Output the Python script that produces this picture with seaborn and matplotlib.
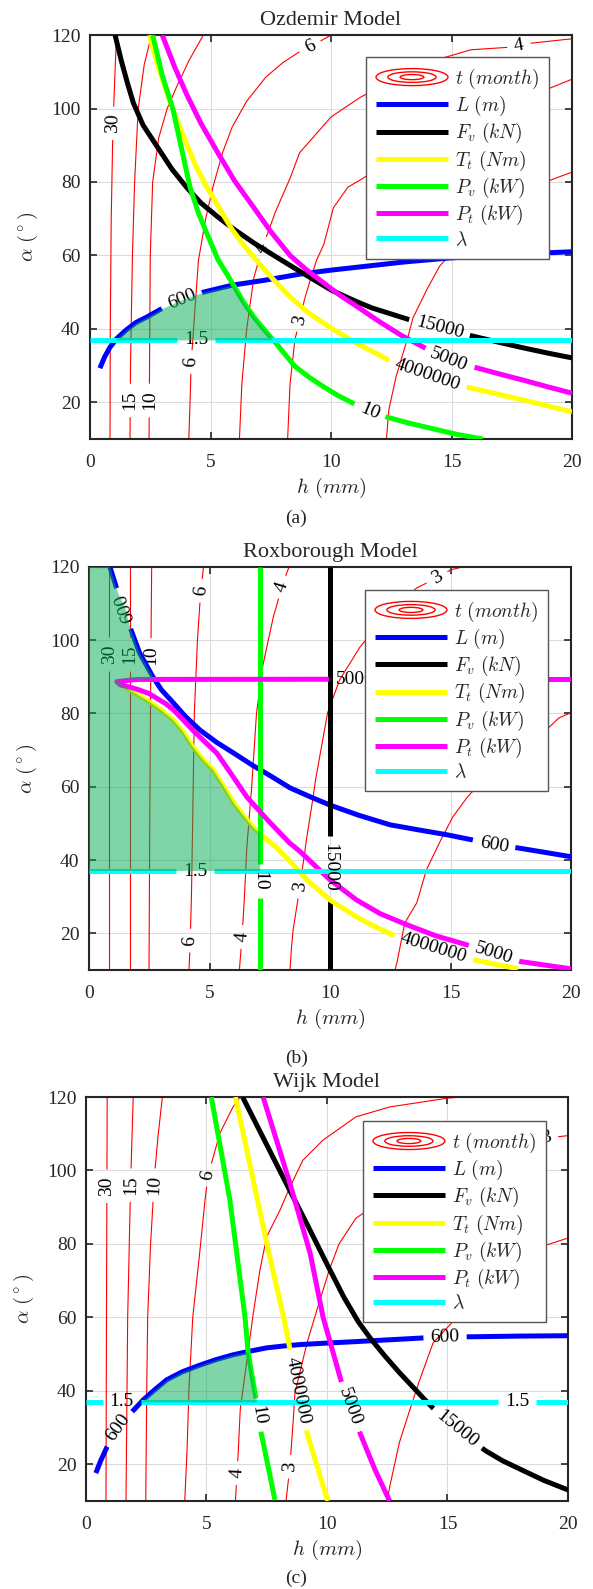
import numpy as np
import matplotlib
matplotlib.use("Agg")
import matplotlib.pyplot as plt
import seaborn as sns
from matplotlib.legend_handler import HandlerBase
from matplotlib.patches import Ellipse
from matplotlib.lines import Line2D

sns.set_style("ticks")
plt.rcParams["font.family"] = ["Liberation Serif", "DejaVu Serif"]
plt.rcParams["mathtext.fontset"] = "cm"

# ---------------------------------------------------------------- axes
H_LIM = (0, 20)
A_LIM = (10, 120)
H_TICKS = [0, 5, 10, 15, 20]
A_TICKS = [20, 40, 60, 80, 100, 120]

# ------------------------------------------------ (a) Ozdemir model
OZ_T30_H = [0.83, 0.84, 0.88, 0.95, 1.05, 1.1]
OZ_T30_A = [10, 40, 70, 95, 112, 120]
OZ_T15_H = [1.66, 1.68, 1.76, 1.85, 2.0, 2.25, 2.55]
OZ_T15_A = [10, 30, 60, 80, 100, 112, 120]
OZ_T10_H = [2.45, 2.47, 2.5, 2.6, 2.85, 3.2, 3.6, 4.1, 4.7]
OZ_T10_A = [10, 30, 60, 80, 92, 100, 106, 113, 120]
OZ_T6_H = [4.1, 4.15, 4.2, 4.35, 4.5, 4.8, 5.1, 5.5, 5.9, 6.5, 7.3, 8.0, 8.7, 9.4, 10.0]
OZ_T6_A = [10, 20, 31, 45, 58.7, 70, 78.6, 88, 95, 102, 108.6, 112.5, 115.5, 117.8, 120]
OZ_T4_H = [6.2, 6.3, 6.5, 6.8, 7.15, 7.7, 8.3, 8.7, 10.0, 11.2, 13.0, 14.5, 15.8, 17.4, 18.3, 20.0]
OZ_T4_A = [10, 25, 40, 54, 62, 72, 81, 88, 97.7, 103, 109.5, 113.5, 116, 116.7, 117.8, 119]
OZ_T3_H = [8.2, 8.3, 8.5, 8.7, 8.9, 9.1, 9.4, 9.7, 10.1, 10.7, 11.2, 12.5, 14.0, 15.5, 17.0, 19.1, 20.0]
OZ_T3_A = [10, 25, 37, 42.4, 48, 52.5, 58.7, 63, 73, 78.6, 80.5, 86, 92, 97, 101, 105.6, 108]
OZ_T2_H = [12.3, 12.4, 12.7, 13.2, 13.4, 14.0, 14.5, 14.9, 16.0, 17.2, 18.2, 19.1, 20.0]
OZ_T2_A = [10, 18, 27, 38, 43, 51, 57, 60, 67, 72.5, 76.5, 80.5, 82.7]
OZ_L_H = [0.41, 0.6, 0.83, 1.1, 1.5, 1.9, 2.35, 3.0, 3.8, 4.7, 5.9, 7.3, 8.7, 10.0, 11.1, 13.0,
          14.9, 17.5, 20.0]
OZ_L_A = [29.3, 32.3, 35, 37.3, 39.7, 41.7, 43.2, 45.6, 47.9, 50, 51.9, 53.3, 54.9, 56, 56.8, 58.2,
          59.3, 60.3, 61]
OZ_FV_H = [1.04, 1.3, 1.55, 1.8, 2.2, 2.8, 3.4, 4.0, 4.6, 5.3, 6.0, 6.8, 7.8, 8.8, 10.0, 11.0, 11.7,
           13.2, 14.5, 15.9, 17.0, 18.0, 19.0, 20.0]
OZ_FV_A = [120, 113, 107, 101.5, 95.5, 89.5, 83.5, 78.6, 74.3, 70.5, 67, 63.4, 59.3, 55.3, 50.6, 47.6,
           45.7, 42.6, 40.3, 38, 36.3, 34.8, 33.4, 32.1]
OZ_TT_H = [2.46, 2.8, 3.2, 3.6, 4.0, 4.4, 4.85, 5.4, 5.9, 6.4, 6.9, 7.6, 8.3, 9.1, 10.0, 11.2, 12.4,
           14.0, 15.8, 18.0, 20.0]
OZ_TT_A = [120, 112, 104, 97, 90.5, 84.2, 78.6, 72.5, 67, 62.6, 58.7, 53.5, 48.7, 44.2, 40.2, 35.6,
           31.5, 27.4, 23.9, 20.6, 17.4]
OZ_PV_H = [2.6, 3.0, 3.45, 3.8, 4.15, 4.5, 4.85, 5.3, 5.9, 6.35, 6.8, 7.2, 7.6, 8.1, 8.5, 9.1, 9.7,
           10.3, 10.9, 11.6, 12.3, 13.2, 14.1, 15.2, 16.3]
OZ_PV_A = [120, 109, 99.6, 89, 78.6, 71.5, 66, 59, 52.5, 47.5, 43.2, 40, 37, 33, 29.8, 26.8, 24.2,
           21.8, 19.8, 17.6, 16, 14.4, 13, 11.3, 10]
OZ_PT_H = [3.0, 3.5, 4.0, 4.6, 5.3, 6.0, 6.8, 7.5, 8.3, 9.0, 9.7, 10.4, 11.1, 12.0, 12.9, 13.9, 14.9,
           16.1, 17.0, 18.0, 19.0, 20.0]
OZ_PT_A = [120, 111.5, 104, 96, 88, 80.3, 73, 66.5, 60, 56, 52.5, 49, 46, 42, 38.3, 34.8, 31.5,
           29.3, 27.7, 26, 24.2, 22.5]

# --------------------------------------------- (b) Roxborough model
RX_T30_H = [0.84, 0.84]
RX_T30_A = [10, 120]
RX_T15_H = [1.7, 1.7]
RX_T15_A = [10, 120]
RX_T10_H = [2.49, 2.52, 2.56, 2.6]
RX_T10_A = [10, 50, 90, 120]
RX_T6_H = [4.15, 4.2, 4.25, 4.3, 4.37, 4.5, 4.6, 4.68, 4.75]
RX_T6_A = [10, 18, 30, 50, 80, 100, 110, 115.6, 120]
RX_T4_H = [6.24, 6.35, 6.45, 6.55, 6.75, 6.95, 7.2, 7.65, 8.05, 8.3]
RX_T4_A = [10, 19, 30, 43.6, 60, 80, 92.7, 106.4, 115.6, 120]
RX_T3_H = [8.34, 8.4, 8.47, 8.75, 9.04, 9.3, 9.4, 9.9, 10.4, 11.25, 12.5, 13.6, 14.45, 15.0, 15.5]
RX_T3_A = [10, 16, 20.9, 32.7, 46.3, 57.2, 61.9, 80.2, 89.2, 98.2, 108, 114.3, 117, 119.2, 120]
RX_T2_H = [12.7, 12.8, 13.1, 13.6, 14.0, 14.6, 15.1, 15.7, 16.1, 17.0, 18.0, 19.1, 19.5, 20.0]
RX_T2_A = [10, 12.7, 22.8, 28.3, 37.3, 45.5, 51.8, 57.2, 60, 66, 71, 76.3, 78.8, 80.2]
RX_L_H = [0.87, 1.2, 1.5, 1.7, 2.1, 2.65, 3.0, 3.5, 4.0, 4.6, 5.3, 6.0, 6.8, 7.6, 8.34, 9.2, 10.0,
          11.2, 12.5, 13.7, 14.85, 15.9, 16.8, 17.8, 19.0, 20.0]
RX_L_A = [120, 113, 108.8, 103.6, 96.5, 90, 86.5, 82.9, 79.2, 75.5, 72.1, 69.2, 65.8, 62.7, 59.7,
          57.2, 55, 52.2, 49.6, 48.2, 46.9, 45.5, 44.1, 43.3, 42, 40.9]
RX_FV_H = [10.0, 10.0]
RX_FV_A = [10, 120]
RX_TT_H = [1.15, 1.5, 1.8, 2.1, 2.5, 3.0, 3.5, 3.9, 4.3, 4.7, 5.15, 5.6, 6.0, 6.4, 6.8, 7.3, 7.8,
           8.34, 9.1, 10.0, 11.1, 11.8, 12.6, 13.4, 14.3, 15.1, 16.0, 17.8]
RX_TT_A = [88.7, 87.2, 86, 84.8, 83.2, 80.9, 78.2, 75, 71, 67.6, 64.6, 60, 55.6, 52.2, 49, 46, 43.3,
           39.6, 34.2, 29.1, 24.5, 22, 19.6, 17.8, 16, 14.3, 12.7, 10.3]
RX_PV_H = [7.1, 7.1]
RX_PV_A = [10, 120]
RX_PT_H = [20.0, 10.0, 2.0, 1.15, 1.3, 1.7, 2.1, 2.5, 2.8, 3.2, 3.5, 3.9, 4.3, 4.8, 5.3, 5.9, 6.55,
           7.4, 8.3, 8.76, 10.0, 11.1, 12.1, 13.2, 14.4, 15.7, 16.8, 17.9, 20.0]
RX_PT_A = [89.35, 89.35, 89.3, 88.7, 87.8, 87.2, 86.4, 85.4, 84.2, 82.6, 81, 78.3, 75.5, 72.3, 69.2,
           63.5, 57.2, 51, 44.8, 42.3, 34.6, 29.1, 25.3, 22.3, 19.3, 16.8, 14.5, 12.3, 10.3]

# --------------------------------------------------- (c) Wijk model
WJ_T30_H = [0.83, 0.85, 0.88]
WJ_T30_A = [10, 60, 120]
WJ_T15_H = [1.66, 1.73, 1.85, 1.96]
WJ_T15_A = [10, 60, 96, 120]
WJ_T10_H = [2.48, 2.52, 2.56, 2.68, 2.86, 3.0, 3.17]
WJ_T10_A = [10, 40, 60, 80, 100, 110, 120]
WJ_T6_H = [4.1, 4.2, 4.27, 4.43, 4.73, 4.94, 5.07, 5.28, 5.56, 6.1, 6.4]
WJ_T6_A = [10, 25, 40, 60, 78.3, 92, 98.8, 103.7, 110.2, 117.3, 120]
WJ_T4_H = [6.2, 6.27, 6.33, 6.4, 6.68, 6.94, 7.22, 7.5, 8.05, 8.5, 9.0, 9.84, 11.2, 12.6, 15.0, 15.6]
WJ_T4_A = [10, 17.6, 25, 34.8, 48.4, 61, 73, 82, 89.2, 96, 102.8, 108.3, 114.6, 117.3, 119.7, 120]
WJ_T3_H = [8.3, 8.46, 8.6, 8.67, 9.17, 9.58, 10.1, 10.5, 11.2, 13.0, 15.0, 17.0, 19.1, 20.0]
WJ_T3_A = [10, 19.3, 32, 39.4, 53, 62, 73, 80, 87, 95, 101, 105.5, 108.8, 109.5]
WJ_T2_H = [12.5, 12.6, 13.0, 13.3, 13.8, 14.4, 15.4, 16.5, 17.7, 19.1, 20.0]
WJ_T2_A = [10, 13.8, 25.8, 32, 42.1, 53, 60.1, 67, 74, 79.7, 81.6]
WJ_L_H = [0.41, 0.6, 0.87, 1.1, 1.33, 1.6, 1.9, 2.37, 2.8, 3.35, 4.0, 4.73, 5.4, 6.1, 6.8, 7.5, 8.2,
          8.9, 10.0, 11.2, 12.6, 14.0, 14.9, 15.8, 18.0, 20.0]
WJ_L_A = [17.6, 20.8, 24.7, 27.5, 29.9, 32.3, 34.2, 37.5, 40, 43, 45.2, 47, 48.5, 49.8, 50.8, 51.7,
          52.2, 52.6, 53, 53.4, 53.9, 54.4, 54.6, 54.7, 54.9, 55]
WJ_FV_H = [6.5, 7.4, 8.3, 9.2, 10.0, 10.7, 11.3, 11.8, 12.4, 13.0, 14.0, 14.4, 15.4, 16.0, 16.6,
           17.3, 18.1, 19.0, 20.0]
WJ_FV_A = [120, 108.3, 96.6, 85, 74.5, 65.5, 58.8, 54.3, 49.5, 45, 38, 35.3, 29.6, 26.4,
           23.6, 20.9, 18.4, 15.6, 13]
WJ_TT_H = [6.2, 7.5, 8.2, 8.4, 8.75, 9.17, 10.03]
WJ_TT_A = [120, 80.2, 60, 53.5, 41.5, 28.5, 10]
WJ_PV_H = [5.2, 5.97, 6.6, 6.73, 7.05, 7.26, 7.5, 7.84]
WJ_PV_A = [120, 92, 60, 50.3, 38, 28.8, 21.2, 10.3]
WJ_PT_H = [7.35, 8.46, 9.3, 9.84, 10.6, 10.95, 11.4, 12.0, 12.6]
WJ_PT_A = [120, 96.5, 77.5, 60, 42.4, 35.6, 28, 18.4, 10]

# slenderness limit, same in every model
LAM_H = [0.0, 20.0]
LAM_A = [37.0, 37.0]

# contour levels (months) and constraint levels
T_LEVELS = ["30", "15", "10", "6", "4", "3"]
L_LEVEL = "600"
FV_LEVEL = "15000"
TT_LEVEL = "4000000"
PV_LEVEL = "10"
PT_LEVEL = "5000"
LAM_LEVEL = "1.5"

C_T = "#ff0000"
C_L = "#0000ff"
C_FV = "#000000"
C_TT = "#ffff00"
C_PV = "#00ff00"
C_PT = "#ff00ff"
C_LAM = "#00ffff"
C_FILL = (0.0, 0.68, 0.32)

LEGEND_LABELS = [r"$t\ (month)$", r"$L\ (m)$", r"$F_v\ (kN)$", r"$T_t\ (Nm)$",
                 r"$P_v\ (kW)$", r"$P_t\ (kW)$", r"$\lambda$"]

W_THIN = 0.8
W_THICK = 3.6
FS = 14


def draw_labelled(ax, h, a, color, lw, labels, z):
    """Draw a level line broken around its inline value labels."""
    h = np.asarray(h, float)
    a = np.asarray(a, float)
    pts = ax.transData.transform(np.column_stack([h, a]))
    seg = np.hypot(np.diff(pts[:, 0]), np.diff(pts[:, 1]))
    s = np.concatenate([[0.0], np.cumsum(seg)])
    inv = ax.transData.inverted()
    rend = ax.figure.canvas.get_renderer()
    cuts = []
    for lab in labels:
        key, val, txt = lab[0], lab[1], lab[2]
        flip = len(lab) > 3 and lab[3]
        arr = h if key == "h" else a
        s0 = None
        for i in range(len(arr) - 1):
            lo, hi = min(arr[i], arr[i + 1]), max(arr[i], arr[i + 1])
            if arr[i] != arr[i + 1] and lo <= val <= hi:
                f = (val - arr[i]) / (arr[i + 1] - arr[i])
                s0 = s[i] + f * seg[i]
                break
        if s0 is None:
            continue
        t = ax.text(0, 0, txt, fontsize=FS, ha="center", va="center",
                    rotation_mode="anchor", zorder=z + 0.1, color="black")
        w = t.get_window_extent(renderer=rend).width
        gap = w + 14
        sa, sb = max(s0 - gap / 2, 0), min(s0 + gap / 2, s[-1])
        dx = np.interp(sb, s, pts[:, 0]) - np.interp(sa, s, pts[:, 0])
        dy = np.interp(sb, s, pts[:, 1]) - np.interp(sa, s, pts[:, 1])
        ang = np.degrees(np.arctan2(dy, dx))
        if ang > 90:
            ang -= 180
        elif ang <= -90:
            ang += 180
        if flip:
            ang = ang - 180 if ang > 0 else ang + 180
        px, py = np.interp(s0, s, pts[:, 0]), np.interp(s0, s, pts[:, 1])
        t.set_rotation(ang)
        t.set_position(inv.transform((px, py)))
        cuts.append((s0 - gap / 2, s0 + gap / 2))
    cuts.sort()
    pieces, start = [], 0.0
    for ca, cb in cuts:
        if ca > start:
            pieces.append((start, ca))
        start = max(start, cb)
    if start < s[-1]:
        pieces.append((start, s[-1]))
    for sa, sb in pieces:
        inner = (s > sa) & (s < sb)
        ss = np.concatenate([[sa], s[inner], [sb]])
        xy = np.column_stack([np.interp(ss, s, pts[:, 0]), np.interp(ss, s, pts[:, 1])])
        d = inv.transform(xy)
        sns.lineplot(x=d[:, 0], y=d[:, 1], ax=ax, color=color, lw=lw, sort=False,
                     estimator=None, zorder=z, legend=False, solid_capstyle="butt",
                     solid_joinstyle="round")
        ax.set_xlim(*H_LIM)
        ax.set_ylim(*A_LIM)


class ContourKey:
    pass


class ContourKeyHandler(HandlerBase):
    def create_artists(self, legend, orig_handle, xdescent, ydescent, width, height,
                       fontsize, trans):
        cx = width / 2 - xdescent
        cy = height / 2 - ydescent
        arts = []
        for kw, kh in ((1.0, 1.0), (0.67, 0.62), (0.33, 0.3)):
            arts.append(Ellipse((cx, cy), width * kw, height * 1.25 * kh, fill=False,
                                edgecolor=C_T, lw=1.0, transform=trans))
        return arts


def setup_axes(ax, title):
    ax.set_xlim(*H_LIM)
    ax.set_ylim(*A_LIM)
    ax.set_autoscale_on(False)
    ax.set_xticks(H_TICKS)
    ax.set_yticks(A_TICKS)
    ax.grid(True, color="#dcdcdc", lw=0.8)
    ax.set_axisbelow(True)
    for sp in ax.spines.values():
        sp.set_visible(True)
        sp.set_linewidth(1.5)
        sp.set_color("#262626")
    ax.tick_params(direction="in", top=True, right=True, length=5, width=1.2,
                   labelsize=FS, colors="#262626")
    ax.tick_params(axis="x", pad=11)
    ax.tick_params(axis="y", pad=7)
    ax.set_xlabel(r"$h\ (mm)$", fontsize=15, color="#262626")
    ax.set_ylabel(r"$\alpha\ (^\circ)$", fontsize=15, color="#262626")
    ax.xaxis.set_label_coords(0.5, -0.122)
    ax.xaxis.label.set_va("center")
    ax.yaxis.set_label_coords(-0.128, 0.5)
    ax.yaxis.label.set_va("center")
    ax.set_title(title, fontsize=16, pad=7)


def add_legend(ax, anchor):
    handles = [ContourKey()] + [Line2D([], [], color=c, lw=W_THICK, solid_capstyle="butt")
                                for c in (C_L, C_FV, C_TT, C_PV, C_PT, C_LAM)]
    leg = ax.legend(handles, LEGEND_LABELS, loc="upper right", bbox_to_anchor=anchor,
                    borderaxespad=0, fontsize=FS, handlelength=3.7, handletextpad=0.35,
                    borderpad=0.5, labelspacing=0.16, frameon=True, fancybox=False,
                    edgecolor="#555555", framealpha=1,
                    handler_map={ContourKey: ContourKeyHandler()})
    leg.get_frame().set_linewidth(1.0)
    leg.set_zorder(20)


fig = plt.figure(figsize=(5.93, 15.89), dpi=100, facecolor="white")
ax_a = fig.add_axes([0.1518, 0.7237, 0.8128, 0.2542])
ax_b = fig.add_axes([0.1501, 0.3896, 0.8128, 0.2536])
ax_c = fig.add_axes([0.1450, 0.0554, 0.8128, 0.2542])

HH = np.linspace(0, 20, 2001)

# ------------------------------------------------------------- (a)
ax = ax_a
setup_axes(ax, "Ozdemir Model")
draw_labelled(ax, OZ_T30_H, OZ_T30_A, C_T, W_THIN, [("a", 96, T_LEVELS[0])], 2)
draw_labelled(ax, OZ_T15_H, OZ_T15_A, C_T, W_THIN, [("a", 20.5, T_LEVELS[1])], 2)
draw_labelled(ax, OZ_T10_H, OZ_T10_A, C_T, W_THIN, [("a", 20.5, T_LEVELS[2])], 2)
draw_labelled(ax, OZ_T6_H, OZ_T6_A, C_T, W_THIN,
              [("a", 31, T_LEVELS[3]), ("h", 9.13, T_LEVELS[3])], 2)
draw_labelled(ax, OZ_T4_H, OZ_T4_A, C_T, W_THIN,
              [("h", 7.15, T_LEVELS[4]), ("h", 17.8, T_LEVELS[4])], 2)
draw_labelled(ax, OZ_T3_H, OZ_T3_A, C_T, W_THIN, [("a", 42.4, T_LEVELS[5])], 2)
draw_labelled(ax, OZ_T2_H, OZ_T2_A, C_T, W_THIN, [], 2)
draw_labelled(ax, OZ_L_H, OZ_L_A, C_L, W_THICK, [("h", 3.8, L_LEVEL)], 3)
draw_labelled(ax, OZ_FV_H, OZ_FV_A, C_FV, W_THICK, [("h", 14.5, FV_LEVEL)], 3)
draw_labelled(ax, OZ_TT_H, OZ_TT_A, C_TT, W_THICK, [("h", 14.0, TT_LEVEL)], 3)
draw_labelled(ax, OZ_PV_H, OZ_PV_A, C_PV, W_THICK, [("h", 11.6, PV_LEVEL)], 3)
draw_labelled(ax, OZ_PT_H, OZ_PT_A, C_PT, W_THICK, [("h", 14.9, PT_LEVEL)], 3)
draw_labelled(ax, LAM_H, LAM_A, C_LAM, W_THICK, [("h", 4.4, LAM_LEVEL)], 3)
up = np.minimum(np.interp(HH, OZ_L_H, OZ_L_A), np.interp(HH, OZ_PV_H, OZ_PV_A))
ax.fill_between(HH, LAM_A[0], up, where=up > LAM_A[0], interpolate=True,
                color=C_FILL, alpha=0.5, lw=0, zorder=5)
add_legend(ax, (0.952, 0.9455))

# ------------------------------------------------------------- (b)
ax = ax_b
setup_axes(ax, "Roxborough Model")
draw_labelled(ax, RX_T30_H, RX_T30_A, C_T, W_THIN, [("a", 96.2, T_LEVELS[0])], 2)
draw_labelled(ax, RX_T15_H, RX_T15_A, C_T, W_THIN, [("a", 96.2, T_LEVELS[1])], 2)
draw_labelled(ax, RX_T10_H, RX_T10_A, C_T, W_THIN, [("a", 96.0, T_LEVELS[2])], 2)
draw_labelled(ax, RX_T6_H, RX_T6_A, C_T, W_THIN,
              [("a", 18, T_LEVELS[3]), ("a", 113.5, T_LEVELS[3])], 2)
draw_labelled(ax, RX_T4_H, RX_T4_A, C_T, W_THIN,
              [("a", 19, T_LEVELS[4]), ("a", 114.5, T_LEVELS[4])], 2)
draw_labelled(ax, RX_T3_H, RX_T3_A, C_T, W_THIN,
              [("a", 32.7, T_LEVELS[5]), ("h", 14.45, T_LEVELS[5])], 2)
draw_labelled(ax, RX_T2_H, RX_T2_A, C_T, W_THIN, [], 2)
draw_labelled(ax, RX_L_H, RX_L_A, C_L, W_THICK,
              [("a", 108.8, L_LEVEL, True), ("h", 16.8, L_LEVEL)], 3)
draw_labelled(ax, RX_FV_H, RX_FV_A, C_FV, W_THICK, [("a", 38, FV_LEVEL, True)], 3)
draw_labelled(ax, RX_TT_H, RX_TT_A, C_TT, W_THICK, [("h", 14.3, TT_LEVEL)], 3)
draw_labelled(ax, RX_PV_H, RX_PV_A, C_PV, W_THICK, [("a", 34.2, PV_LEVEL, True)], 3)
draw_labelled(ax, RX_PT_H, RX_PT_A, C_PT, W_THICK,
              [("h", 11.05, PT_LEVEL), ("a", 14.5, PT_LEVEL)], 3)
draw_labelled(ax, LAM_H, LAM_A, C_LAM, W_THICK, [("h", 4.4, LAM_LEVEL)], 3)
# feasible region: left of L, above the Pt asymptote branch or under the Tt branch
a_top = RX_PT_A[0]
l_h = np.array(RX_L_H)
l_a = np.array(RX_L_A)
h_l_end = np.interp(a_top, l_a[::-1], l_h[::-1])
tt_h = np.array(RX_TT_H)
tt_a = np.array(RX_TT_A)
h_pv = RX_PV_H[0]
keep_l = l_a > a_top
keep_t = tt_h < h_pv
poly_h = np.concatenate([[0, 0], l_h[keep_l], [h_l_end, tt_h[0]], tt_h[keep_t][1:],
                         [h_pv, h_pv]])
poly_a = np.concatenate([[LAM_A[0], A_LIM[1]], l_a[keep_l], [a_top, a_top], tt_a[keep_t][1:],
                         [np.interp(h_pv, tt_h, tt_a), LAM_A[0]]])
ax.fill(poly_h, poly_a, color=C_FILL, alpha=0.5, lw=0, zorder=5)
add_legend(ax, (0.952, 0.943))

# ------------------------------------------------------------- (c)
ax = ax_c
setup_axes(ax, "Wijk Model")
draw_labelled(ax, WJ_T30_H, WJ_T30_A, C_T, W_THIN, [("a", 95.7, T_LEVELS[0])], 2)
draw_labelled(ax, WJ_T15_H, WJ_T15_A, C_T, W_THIN, [("a", 96, T_LEVELS[1])], 2)
draw_labelled(ax, WJ_T10_H, WJ_T10_A, C_T, W_THIN, [("a", 96, T_LEVELS[2])], 2)
draw_labelled(ax, WJ_T6_H, WJ_T6_A, C_T, W_THIN, [("a", 98.8, T_LEVELS[3])], 2)
draw_labelled(ax, WJ_T4_H, WJ_T4_A, C_T, W_THIN, [("a", 17.6, T_LEVELS[4])], 2)
draw_labelled(ax, WJ_T3_H, WJ_T3_A, C_T, W_THIN,
              [("a", 19.3, T_LEVELS[5]), ("h", 19.1, T_LEVELS[5])], 2)
draw_labelled(ax, WJ_T2_H, WJ_T2_A, C_T, W_THIN, [], 2)
draw_labelled(ax, WJ_L_H, WJ_L_A, C_L, W_THICK, [("h", 1.33, L_LEVEL), ("h", 14.9, L_LEVEL)], 3)
draw_labelled(ax, WJ_FV_H, WJ_FV_A, C_FV, W_THICK, [("h", 15.4, FV_LEVEL)], 3)
draw_labelled(ax, WJ_TT_H, WJ_TT_A, C_TT, W_THICK, [("a", 40.2, TT_LEVEL)], 3)
draw_labelled(ax, WJ_PV_H, WJ_PV_A, C_PV, W_THICK, [("a", 33.4, PV_LEVEL)], 3)
draw_labelled(ax, WJ_PT_H, WJ_PT_A, C_PT, W_THICK, [("h", 10.95, PT_LEVEL)], 3)
draw_labelled(ax, LAM_H, LAM_A, C_LAM, W_THICK,
              [("h", 1.48, LAM_LEVEL), ("h", 17.9, LAM_LEVEL)], 3)
up = np.minimum(np.interp(HH, WJ_L_H, WJ_L_A), np.interp(HH, WJ_PV_H, WJ_PV_A))
ax.fill_between(HH, LAM_A[0], up, where=up > LAM_A[0], interpolate=True,
                color=C_FILL, alpha=0.5, lw=0, zorder=5)
add_legend(ax, (0.954, 0.9406))

for ax in (ax_a, ax_b, ax_c):
    ax.set_xlim(*H_LIM)
    ax.set_ylim(*A_LIM)

fig.text(0.5, 1 - 518 / 1589, "(a)", ha="center", va="center", fontsize=FS)
fig.text(0.5, 1 - 1058 / 1589, "(b)", ha="center", va="center", fontsize=FS)
fig.text(0.5, 1 - 1578 / 1589, "(c)", ha="center", va="center", fontsize=FS)

fig.savefig("out.png", dpi=100, facecolor="white")
